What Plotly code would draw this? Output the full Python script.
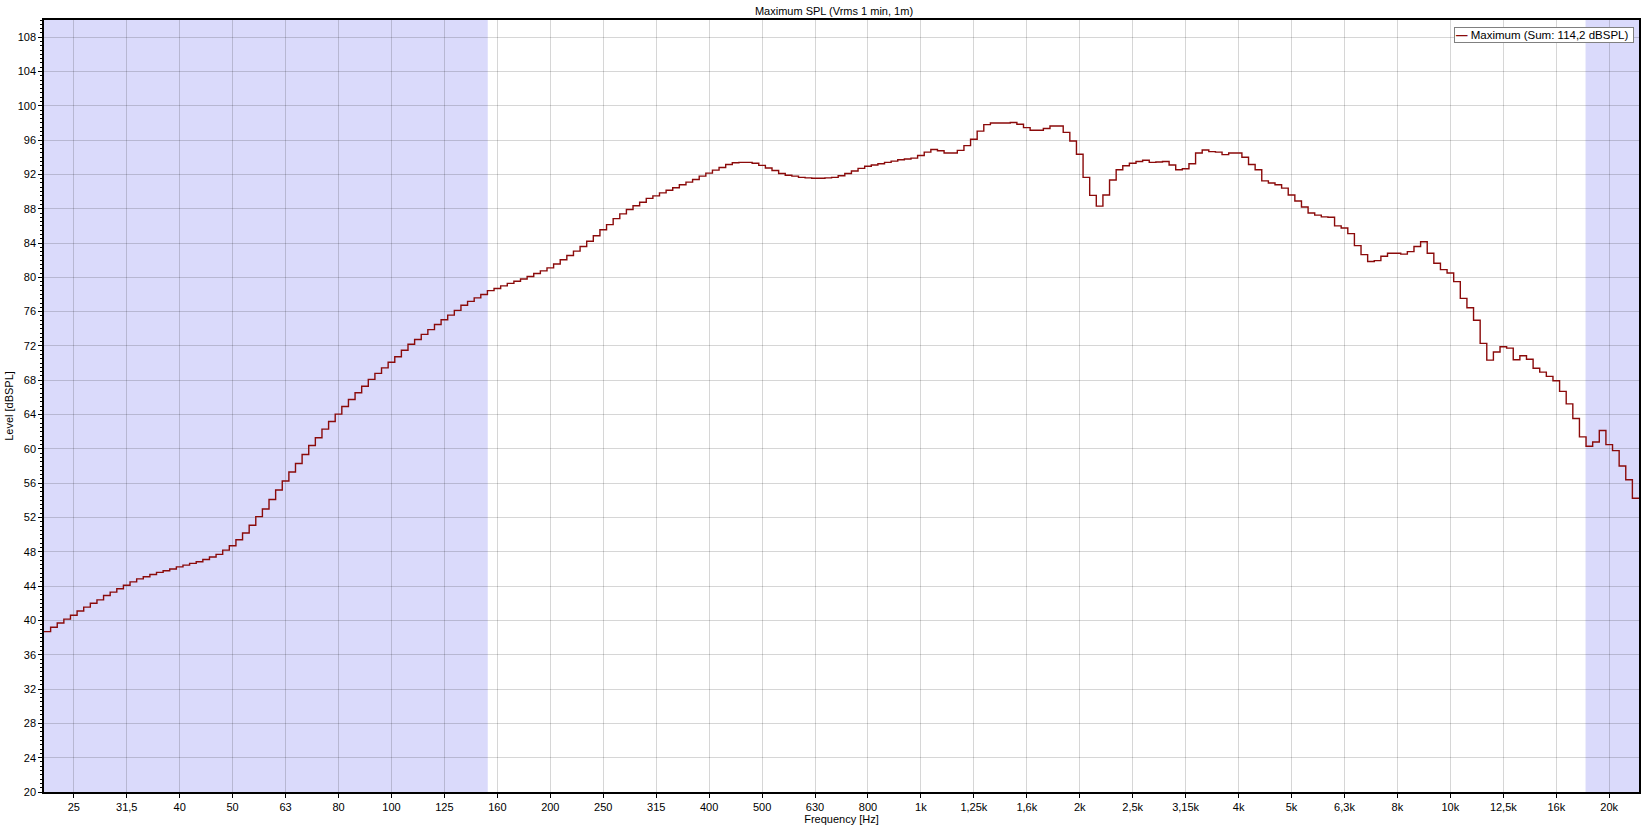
import plotly.graph_objects as go

# ---- data -------------------------------------------------------------
# 1/24-octave bands, band index n -> centre frequency 10**(n/80) Hz
FIRST_BAND = 108  # 22.4 Hz
LEVELS_DB = [
    # 108 .. 119
    38.7, 39.2, 39.7, 40.15, 40.6, 41.1, 41.55, 42.0, 42.4, 42.9, 43.3, 43.7,
    # 120 .. 131
    44.1, 44.5, 44.85, 45.1, 45.35, 45.6, 45.8, 46.0, 46.25, 46.45, 46.65, 46.85,
    # 132 .. 143
    47.1, 47.4, 47.7, 48.2, 48.7, 49.4, 50.2, 51.1, 52.1, 53.0, 54.1, 55.2,
    # 144 .. 155
    56.25, 57.3, 58.3, 59.35, 60.4, 61.3, 62.3, 63.2, 64.05, 64.95, 65.75, 66.55,
    # 156 .. 167
    67.3, 68.1, 68.8, 69.45, 70.1, 70.75, 71.5, 72.2, 72.75, 73.35, 73.9, 74.5,
    # 168 .. 179
    75.05, 75.6, 76.15, 76.75, 77.2, 77.6, 78.0, 78.45, 78.7, 79.0, 79.3, 79.55,
    # 180 .. 191
    79.8, 80.1, 80.45, 80.75, 81.1, 81.55, 82.05, 82.55, 83.05, 83.6, 84.2, 84.85,
    # 192 .. 203
    85.55, 86.15, 86.85, 87.4, 87.9, 88.35, 88.75, 89.2, 89.5, 89.85, 90.15, 90.45,
    # 204 .. 215
    90.8, 91.1, 91.4, 91.8, 92.15, 92.5, 92.8, 93.15, 93.35, 93.4, 93.4, 93.3,
    # 216 .. 227
    93.05, 92.75, 92.45, 92.1, 91.9, 91.8, 91.65, 91.6, 91.55, 91.55, 91.6, 91.65,
    # 228 .. 239
    91.85, 92.1, 92.4, 92.7, 92.95, 93.1, 93.25, 93.4, 93.55, 93.7, 93.8, 93.9,
    # 240 .. 251
    94.2, 94.6, 94.9, 94.75, 94.5, 94.5, 94.8, 95.35, 96.1, 97.05, 97.8, 98.0,
    # 252 .. 263
    98.0, 98.0, 98.05, 97.85, 97.45, 97.15, 97.15, 97.35, 97.65, 97.65, 96.9, 95.9,
    # 264 .. 275
    94.35, 91.65, 89.55, 88.3, 89.6, 91.35, 92.55, 93.0, 93.3, 93.5, 93.65, 93.4,
    # 276 .. 287
    93.45, 93.5, 93.1, 92.55, 92.65, 93.25, 94.5, 94.85, 94.65, 94.6, 94.3, 94.5,
    # 288 .. 299
    94.5, 94.0, 93.15, 92.55, 91.25, 91.0, 90.8, 90.4, 89.6, 88.9, 88.2, 87.5,
    # 300 .. 311
    87.25, 87.05, 87.0, 86.0, 85.75, 85.1, 83.7, 82.65, 81.85, 81.95, 82.45, 82.8,
    # 312 .. 323
    82.8, 82.7, 83.0, 83.6, 84.15, 82.8, 81.65, 80.9, 80.5, 79.5, 77.55, 76.45,
    # 324 .. 335
    75.0, 72.3, 70.35, 71.3, 71.9, 71.75, 70.4, 70.85, 70.45, 69.4, 68.95, 68.45,
    # 336 .. 347
    67.95, 66.7, 65.25, 63.55, 61.4, 60.3, 60.8, 62.15, 60.5, 59.8, 58.0, 56.4,
    # 348
    54.25,
]

TICK_BANDS = list(range(112, 345, 8))
TICK_LABELS = ["25", "31,5", "40", "50", "63", "80", "100", "125", "160", "200",
               "250", "315", "400", "500", "630", "800", "1k", "1,25k", "1,6k",
               "2k", "2,5k", "3,15k", "4k", "5k", "6,3k", "8k", "10k", "12,5k",
               "16k", "20k"]
Y_TICKS = list(range(20, 109, 4))
SHADE_LOW_END_HZ = 152
SHADE_HIGH_START_HZ = 18000
LEGEND_NAME = "Maximum (Sum: 114,2 dBSPL)"
TITLE = "Maximum SPL (Vrms 1 min, 1m)"
LINE_COLOR = "#8b0a0a"

# ---- derived ----------------------------------------------------------
n_bands = len(LEVELS_DB)
bands = [FIRST_BAND + i for i in range(n_bands)]
edges = [10 ** ((n - 0.5) / 80) for n in bands] + [10 ** ((bands[-1] + 0.5) / 80)]
step_y = LEVELS_DB + [LEVELS_DB[-1]]
tickvals = [10 ** (n / 80) for n in TICK_BANDS]
x_lo, x_hi = edges[0], edges[-1]

FONT = "Liberation Sans"

fig = go.Figure()
fig.add_trace(go.Scatter(
    x=edges, y=step_y, mode="lines", line_shape="hv",
    line=dict(color=LINE_COLOR, width=1.4),
    name=LEGEND_NAME, showlegend=False,
))

fig.add_shape(type="rect", xref="x", yref="paper", x0=x_lo, x1=SHADE_LOW_END_HZ,
              y0=0, y1=1, fillcolor="#dadafb", line_width=0, layer="below")
fig.add_shape(type="rect", xref="x", yref="paper", x0=SHADE_HIGH_START_HZ, x1=x_hi,
              y0=0, y1=1, fillcolor="#dadafb", line_width=0, layer="below")

# compact legend box (as in the reference)
fig.add_annotation(
    xref="paper", yref="paper", x=0.9969, y=0.9913, xanchor="right", yanchor="top",
    text=f"<span style='color:{LINE_COLOR}'><b>—</b></span> {LEGEND_NAME} ",
    showarrow=False, align="left", bgcolor="white",
    bordercolor="#808080", borderwidth=1, borderpad=1,
    font=dict(size=11.5, family=FONT, color="#000"),
)

fig.update_layout(
    width=1645, height=827,
    margin=dict(l=44, r=6, t=20, b=35),
    paper_bgcolor="white", plot_bgcolor="white",
    font=dict(family=FONT, size=11, color="#000000"),
    title=dict(text=TITLE, x=(834 - 44) / 1595, xref="paper", xanchor="center",
               y=1 - 11.5 / 827, yref="container", yanchor="middle",
               font=dict(size=11)),
    showlegend=False,
)

fig.update_xaxes(
    type="log", range=[(FIRST_BAND - 0.5) / 80, (bands[-1] + 0.5) / 80],
    tickvals=tickvals, ticktext=TICK_LABELS,
    showgrid=True, gridcolor="rgba(0,0,0,0.16)", gridwidth=1,
    ticks="outside", ticklen=4, tickcolor="#000", tickwidth=1,
    showline=True, linecolor="#000", linewidth=1.5, mirror=True,
    title=dict(text="Frequency [Hz]", standoff=2, font=dict(size=11)),
    automargin=False, zeroline=False,
)
fig.update_yaxes(
    range=[20, 110], tickvals=Y_TICKS,
    showgrid=True, gridcolor="rgba(0,0,0,0.16)", gridwidth=1,
    ticks="outside", ticklen=4, tickcolor="#000", tickwidth=1,
    minor=dict(dtick=0.5, ticks="outside", ticklen=2, tickcolor="#000", showgrid=False),
    showline=True, linecolor="#000", linewidth=1.5, mirror=True,
    title=dict(text="Level [dBSPL]", standoff=2, font=dict(size=11)),
    automargin=False, zeroline=False,
)

fig.write_html(
    "out.html",
    config={"displayModeBar": False},
    post_script="document.body.style.margin='0px';document.body.style.overflow='hidden';",
)
